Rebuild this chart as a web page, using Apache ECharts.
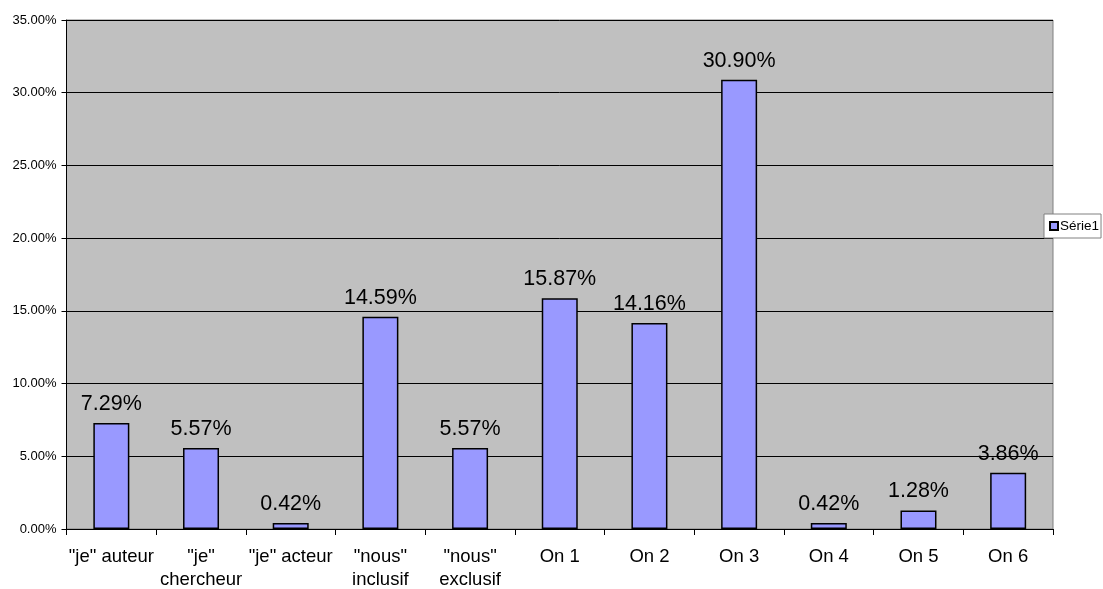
<!DOCTYPE html>
<html>
<head>
<meta charset="utf-8">
<script src="https://cdn.jsdelivr.net/npm/echarts@6/dist/echarts.min.js"></script>
<style>
  html, body { margin: 0; padding: 0; background: #fff; }
  #chart { width: 1103px; height: 589px; }
</style>
</head>
<body>
<div id="chart"></div>
<script>
// Categories (pronoun uses) and their shares in percent
const categories = ['"je" auteur', '"je"\nchercheur', '"je" acteur', '"nous"\ninclusif', '"nous"\nexclusif', 'On 1', 'On 2', 'On 3', 'On 4', 'On 5', 'On 6'];
const serie1 = [7.29, 5.57, 0.42, 14.59, 5.57, 15.87, 14.16, 30.90, 0.42, 1.28, 3.86];
const seriesName = 'Série1';
const yTicks = { min: 0, max: 35, interval: 5 };

const font = '"Liberation Sans", Arial, sans-serif';
const chart = echarts.init(document.getElementById('chart'), null, { renderer: 'canvas' });

chart.setOption({
  animation: false,
  textStyle: { fontFamily: font },
  grid: {
    left: 66.5, right: 50, top: 20, bottom: 60,
    outerBoundsMode: 'none',
    containLabel: false,
    show: true, backgroundColor: '#C0C0C0', borderColor: '#808080', borderWidth: 1
  },
  legend: {
    data: [seriesName],
    left: 1044, top: 214,
    orient: 'vertical',
    backgroundColor: '#fff', borderColor: '#808080', borderWidth: 1,
    padding: [5, 2, 5, 5],
    icon: 'rect', itemWidth: 8, itemHeight: 8, itemGap: 4,
    textStyle: { fontFamily: font, fontSize: 13.5, color: '#000', padding: [0, 0, 0, -3] }
  },
  xAxis: {
    type: 'category',
    data: categories,
    axisLine: { lineStyle: { color: '#000', width: 1 } },
    axisTick: { show: true, length: 6, lineStyle: { color: '#000' } },
    axisLabel: { color: '#000', fontSize: 18.5, lineHeight: 23, margin: 16, interval: 0, fontFamily: font }
  },
  yAxis: {
    type: 'value',
    min: yTicks.min, max: yTicks.max, interval: yTicks.interval,
    axisLine: { show: true, lineStyle: { color: '#000', width: 1 } },
    axisTick: { show: true, length: 5, lineStyle: { color: '#000' } },
    splitLine: { show: true, lineStyle: { color: '#000', width: 1 } },
    axisLabel: { color: '#000', fontSize: 13, margin: 10, fontFamily: font,
      formatter: v => v.toFixed(2) + '%' }
  },
  series: [{
    name: seriesName,
    type: 'bar',
    data: serie1,
    barWidth: 36,
    itemStyle: { color: '#9999FF', borderColor: '#000', borderWidth: 1.5 },
    label: {
      show: true, position: 'top', distance: 8,
      color: '#000', fontSize: 21.5, fontFamily: font,
      formatter: p => p.value.toFixed(2) + '%'
    }
  }]
});
</script>
</body>
</html>
